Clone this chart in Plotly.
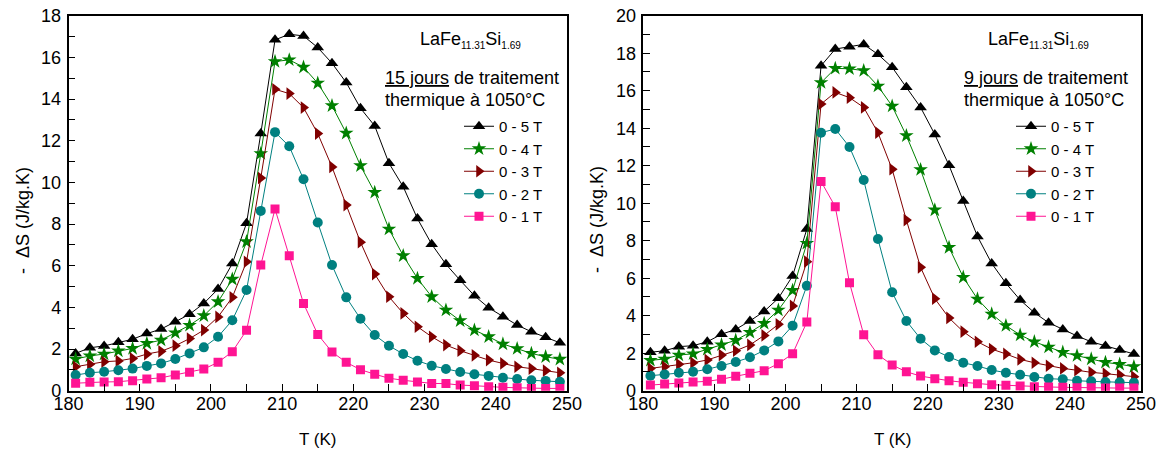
import plotly.graph_objects as go

W, H = 1162, 450
FONT = "Arial, Liberation Sans, sans-serif"

# ---------------- data ----------------
T = [181, 183, 185, 187, 189, 191, 193, 195, 197, 199, 201, 203, 205, 207, 209, 211, 213, 215,
     217, 219, 221, 223, 225, 227, 229, 231, 233, 235, 237, 239, 241, 243, 245, 247, 249]

labels = ["0 - 5 T", "0 - 4 T", "0 - 3 T", "0 - 2 T", "0 - 1 T"]

# Left panel: 15 jours de traitement
left_5T = [1.79, 2.06, 2.15, 2.32, 2.47, 2.74, 2.96, 3.31, 3.67, 4.19,
           4.88, 6.10, 8.04, 12.34, 16.84, 17.11, 17.03, 16.47, 15.72, 14.79,
           13.56, 12.71, 10.92, 9.79, 8.26, 7.03, 6.07, 5.30, 4.56, 3.98,
           3.55, 3.15, 2.83, 2.56, 2.30]
left_4T = [1.52, 1.67, 1.76, 1.91, 2.03, 2.27, 2.43, 2.78, 3.14, 3.60,
           4.27, 5.35, 7.15, 11.38, 15.80, 15.88, 15.53, 14.76, 13.68, 12.36,
           10.80, 9.52, 7.76, 6.48, 5.39, 4.51, 3.87, 3.36, 2.91, 2.59,
           2.24, 2.02, 1.79, 1.63, 1.51]
left_3T = [1.15, 1.27, 1.39, 1.43, 1.55, 1.76, 1.89, 2.16, 2.50, 2.91,
           3.54, 4.48, 6.19, 10.21, 14.47, 14.26, 13.59, 12.34, 10.74, 8.91,
           7.13, 5.60, 4.51, 3.71, 3.07, 2.59, 2.19, 1.92, 1.70, 1.47,
           1.31, 1.15, 1.06, 0.96, 0.86]
left_2T = [0.75, 0.86, 0.91, 0.98, 1.06, 1.19, 1.31, 1.52, 1.79, 2.08,
           2.59, 3.38, 4.83, 8.63, 12.41, 11.73, 10.15, 8.07, 6.03, 4.48,
           3.45, 2.67, 2.16, 1.76, 1.44, 1.20, 1.04, 0.90, 0.79, 0.71,
           0.62, 0.56, 0.50, 0.47, 0.43]
left_1T = [0.36, 0.40, 0.42, 0.43, 0.48, 0.56, 0.62, 0.75, 0.88, 1.04,
           1.36, 1.87, 2.90, 6.03, 8.72, 6.48, 4.19, 2.70, 1.86, 1.36,
           1.01, 0.79, 0.60, 0.50, 0.42, 0.35, 0.34, 0.27, 0.24, 0.19,
           0.16, 0.14, 0.11, 0.11, 0.11]

# Right panel: 9 jours de traitement
right_5T = [2.05, 2.13, 2.35, 2.40, 2.61, 3.01, 3.27, 3.72, 4.23, 4.93,
            6.12, 8.62, 17.33, 18.22, 18.35, 18.47, 17.94, 17.25, 16.18, 15.11,
            13.67, 12.02, 10.12, 8.23, 6.79, 5.73, 4.84, 4.16, 3.63, 3.27,
            2.92, 2.61, 2.38, 2.17, 1.96]
right_4T = [1.62, 1.69, 1.90, 1.97, 2.21, 2.45, 2.69, 3.11, 3.59, 4.30,
            5.35, 7.86, 16.43, 17.19, 17.17, 17.07, 16.25, 15.18, 13.60, 11.79,
            9.64, 7.64, 6.05, 4.89, 4.09, 3.47, 2.97, 2.61, 2.33, 2.05,
            1.87, 1.69, 1.51, 1.41, 1.28]
right_3T = [1.19, 1.28, 1.41, 1.49, 1.64, 1.90, 2.13, 2.44, 2.95, 3.54,
            4.52, 6.88, 15.29, 15.91, 15.63, 15.11, 13.76, 11.81, 9.10, 6.58,
            4.91, 3.88, 3.15, 2.61, 2.22, 1.96, 1.67, 1.49, 1.33, 1.19,
            1.09, 0.98, 0.91, 0.84, 0.75]
right_2T = [0.80, 0.87, 0.96, 1.01, 1.14, 1.32, 1.53, 1.78, 2.15, 2.63,
            3.47, 5.60, 13.76, 13.96, 13.00, 11.24, 8.09, 5.25, 3.72, 2.77,
            2.15, 1.80, 1.49, 1.32, 1.10, 0.96, 0.85, 0.73, 0.64, 0.61,
            0.53, 0.50, 0.46, 0.45, 0.43]
right_1T = [0.30, 0.36, 0.41, 0.46, 0.50, 0.61, 0.77, 0.93, 1.07, 1.44,
            1.97, 3.66, 11.16, 9.81, 5.76, 2.99, 1.92, 1.37, 1.01, 0.78,
            0.64, 0.53, 0.45, 0.37, 0.32, 0.29, 0.25, 0.21, 0.20, 0.18,
            0.16, 0.16, 0.14, 0.14, 0.14]

left_series = [left_5T, left_4T, left_3T, left_2T, left_1T]
right_series = [right_5T, right_4T, right_3T, right_2T, right_1T]

# ---------------- styles ----------------
colors = ["#000000", "#008000", "#800000", "#008080", "#ff1493"]
symbols = ["triangle-up", "star", "triangle-right", "circle", "square"]
sizes = [11, 11, 11, 10, 9]


def px_x(p):
    return p / W


def px_y(p):
    return 1 - p / H


fig = go.Figure()

for i, (lab, ys) in enumerate(zip(labels, left_series)):
    fig.add_trace(go.Scatter(
        x=T, y=ys, name=lab, mode="lines+markers",
        line=dict(color=colors[i], width=1),
        marker=dict(color=colors[i], symbol=symbols[i], size=sizes[i], line=dict(width=0)),
        xaxis="x", yaxis="y", legend="legend"))

for i, (lab, ys) in enumerate(zip(labels, right_series)):
    fig.add_trace(go.Scatter(
        x=T, y=ys, name=lab, mode="lines+markers",
        line=dict(color=colors[i], width=1),
        marker=dict(color=colors[i], symbol=symbols[i], size=sizes[i], line=dict(width=0)),
        xaxis="x2", yaxis="y2", legend="legend2"))

ydom = [px_y(390.7), px_y(15.7)]
xdom_l = [px_x(68.5), px_x(567)]
xdom_r = [px_x(643.3), px_x(1141)]

tickfont = dict(family=FONT, size=18, color="black")


def xax(domain, anchor):
    return dict(domain=domain, anchor=anchor, range=[180, 250], dtick=10, tick0=180,
                ticks="inside", ticklen=7, tickwidth=1.3, tickcolor="black",
                minor=dict(ticks="inside", dtick=5, ticklen=7, tickwidth=1.3, tickcolor="black"),
                showline=True, linecolor="black", linewidth=1.5, mirror=True,
                showgrid=False, zeroline=False, tickfont=tickfont, ticklabelstandoff=-4)


def yax(domain, anchor, top):
    return dict(domain=domain, anchor=anchor, range=[0, top], dtick=2, tick0=0,
                ticks="inside", ticklen=7, tickwidth=1.3, tickcolor="black",
                minor=dict(ticks="inside", dtick=1, ticklen=7, tickwidth=1.3, tickcolor="black"),
                showline=True, linecolor="black", linewidth=1.5, mirror=True,
                showgrid=False, zeroline=False, tickfont=tickfont, ticklabelstandoff=2)


def xtop(over, anchor):
    return dict(overlaying=over, anchor=anchor, side="top", range=[180, 250], dtick=10, tick0=180,
                ticks="inside", ticklen=4, tickwidth=1.3, tickcolor="black",
                minor=dict(ticks="inside", dtick=5, ticklen=4, tickwidth=1.3, tickcolor="black"),
                showticklabels=False, showgrid=False, zeroline=False, showline=False)


def yright(over, anchor, top):
    return dict(overlaying=over, anchor=anchor, side="right", range=[0, top], dtick=2, tick0=0,
                ticks="inside", ticklen=4, tickwidth=1.3, tickcolor="black",
                minor=dict(ticks="inside", dtick=1, ticklen=4, tickwidth=1.3, tickcolor="black"),
                showticklabels=False, showgrid=False, zeroline=False, showline=False)


annfont = dict(family=FONT, size=18, color="black")
legfont = dict(family=FONT, size=15, color="black")
ytitlefont = dict(family=FONT, size=18, color="black")
xtitlefont = dict(family=FONT, size=17, color="black")

ytitle = "-\u00a0\u00a0\u0394S (J/kg.K)"
compound = ("LaFe<sub><span style='font-size:10px'>11.31</span></sub>"
            "Si<sub><span style='font-size:10px'>1.69</span></sub>")


def ann(text, x, y, font, **kw):
    d = dict(text=text, x=px_x(x), y=px_y(y), xref="paper", yref="paper",
             showarrow=False, font=font)
    d.update(kw)
    return d


annotations = [
    ann(ytitle, 23, 221, ytitlefont, textangle=-90, xanchor="center", yanchor="middle"),
    ann(ytitle, 597, 220, ytitlefont, textangle=-90, xanchor="center", yanchor="middle"),
    ann("T (K)", 317, 439, xtitlefont, xanchor="center", yanchor="middle"),
    ann("T (K)", 892, 439, xtitlefont, xanchor="center", yanchor="middle"),
    ann(compound, 418, 40, annfont, xanchor="left", yanchor="middle"),
    ann(compound, 986, 40, annfont, xanchor="left", yanchor="middle"),
    ann("<u>15 jours</u> de traitement", 383, 78, annfont, xanchor="left", yanchor="middle"),
    ann("thermique \u00e0 1050\u00b0C", 383, 100, annfont, xanchor="left", yanchor="middle"),
    ann("<u>9 jours</u> de traitement", 962, 78, annfont, xanchor="left", yanchor="middle"),
    ann("thermique \u00e0 1050\u00b0C", 962, 100, annfont, xanchor="left", yanchor="middle"),
]

legend_common = dict(font=legfont, bgcolor="rgba(0,0,0,0)", borderwidth=0,
                     xanchor="left", yanchor="top", tracegroupgap=0, itemwidth=30)

fig.update_layout(
    width=W, height=H,
    margin=dict(l=0, r=0, t=0, b=0, autoexpand=False),
    paper_bgcolor="white", plot_bgcolor="white",
    font=dict(family=FONT, color="black"),
    xaxis=xax(xdom_l, "y"),
    yaxis=yax(ydom, "x", 18),
    xaxis2=xax(xdom_r, "y2"),
    yaxis2=yax(ydom, "x2", 20),
    xaxis3=xtop("x", "y"),
    yaxis3=yright("y", "x", 18),
    xaxis4=xtop("x2", "y2"),
    yaxis4=yright("y2", "x2", 20),
    legend=dict(x=px_x(459), y=px_y(110), **legend_common),
    legend2=dict(x=px_x(1011), y=px_y(110), **legend_common),
    annotations=annotations,
    showlegend=True,
)

fig.write_html("out.html", config={"displayModeBar": False},
               post_script="document.body.style.margin='0px';document.body.style.padding='0px';")
